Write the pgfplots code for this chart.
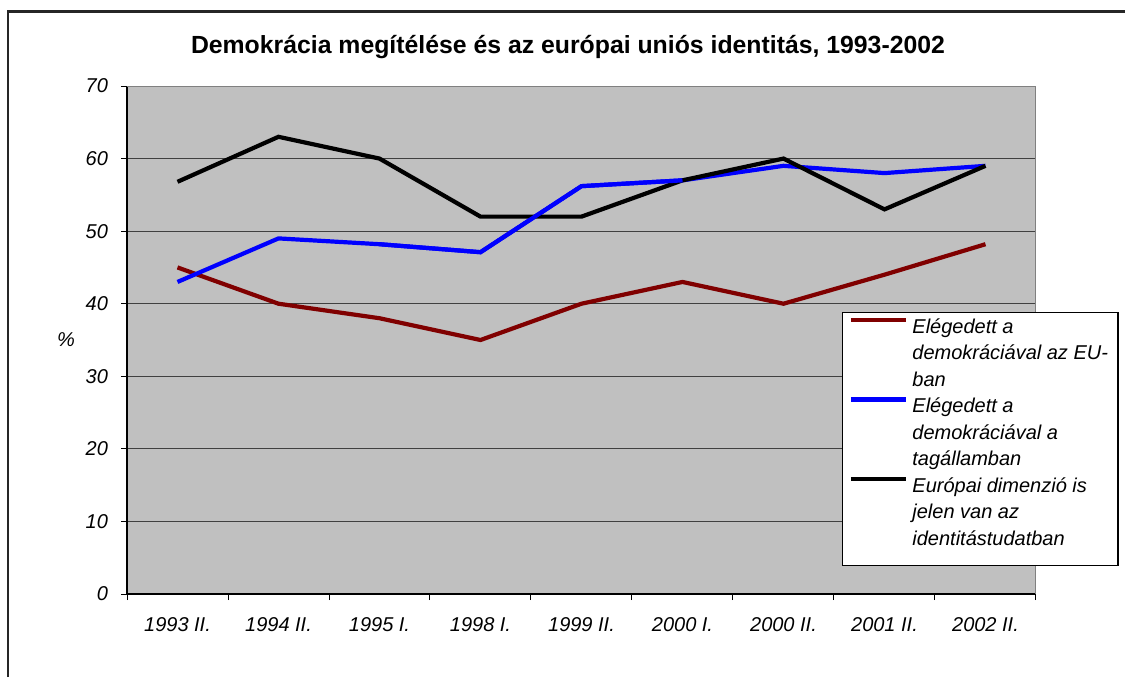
\documentclass[border=0pt]{standalone}
\usepackage{pgfplots}
\pgfplotsset{compat=1.18}
\usepackage{fontspec}
\setmainfont{Liberation Sans}
\definecolor{bgray}{HTML}{C0C0C0}
\definecolor{dred}{HTML}{800000}
\definecolor{fgray}{HTML}{808080}
\begin{document}
\begin{tikzpicture}[x=0.5pt,y=0.5pt]
\useasboundingbox (0,0) rectangle (1125,677);
\draw[line width=1.2pt,black!85] (8,0) -- (8,665.5) -- (1125,665.5);
\node[font=\bfseries\fontsize{12.4}{15}\selectfont] at (568,630) {Demokrácia megítélése és az európai uniós identitás, 1993-2002};
\node[font=\itshape\fontsize{10}{12}\selectfont] at (66,337) {\%};
\begin{axis}[
  at={(63.5pt,41.5pt)}, anchor=south west,
  scale only axis, width=454.5pt, height=254pt,
  xmin=-0.5, xmax=8.5, ymin=0, ymax=70,
  axis background/.style={fill=bgray},
  axis x line*=bottom, axis y line*=left,
  axis line style={black, line width=0.6pt},
  xtick={0,...,8},
  xticklabels={1993 II., 1994 II., 1995 I., 1998 I., 1999 II., 2000 I., 2000 II., 2001 II., 2002 II.},
  major x tick style={draw=none},
  minor xtick={-0.5,0.5,...,8.5},
  minor tick length=3pt,
  minor x tick style={black, line width=0.5pt},
  ytick={0,10,...,70},
  major tick length=3pt,
  y tick style={black, line width=0.5pt},
  tick align=outside,
  ymajorgrids, grid style={black!75, line width=0.5pt},
  ticklabel style={font=\itshape\fontsize{10}{12}\selectfont},
  /pgf/number format/assume math mode=true,
  xticklabel style={yshift=-5pt},
  yticklabel style={xshift=-3pt},
  legend style={at={(0.7866,0.555)}, anchor=north west, draw=black, line width=0.6pt,
    fill=white, font=\itshape\fontsize{10}{13.25}\selectfont, inner xsep=3pt, inner ysep=1pt,
    row sep=0pt, column sep=0pt,
    nodes={inner ysep=0pt, inner xsep=2pt, text height=9.25pt, text depth=4pt}},
  legend cell align=left,
  legend image code/.code={\draw[#1, line width=2.3pt] (0cm,0.75ex) -- (0.97cm,0.75ex);},
]
\draw[fgray, line width=0.6pt] (rel axis cs:0,1) -- (rel axis cs:1,1) -- (rel axis cs:1,0);
\addplot[dred, line width=2.1pt] coordinates {(0,45) (1,40) (2,38) (3,35) (4,40) (5,43) (6,40) (7,44) (8,48.2)};
\addlegendentry{Elégedett a}
\addlegendimage{empty legend}\addlegendentry{demokráciával az EU-}
\addlegendimage{empty legend}\addlegendentry{ban}
\addplot[blue, line width=2.1pt] coordinates {(0,43) (1,49) (2,48.2) (3,47.1) (4,56.2) (5,57) (6,59) (7,58) (8,59)};
\addlegendentry{Elégedett a}
\addlegendimage{empty legend}\addlegendentry{demokráciával a}
\addlegendimage{empty legend}\addlegendentry{tagállamban}
\addplot[black, line width=2.1pt] coordinates {(0,56.8) (1,63) (2,60) (3,52) (4,52) (5,57) (6,60) (7,53) (8,59)};
\addlegendentry{Európai dimenzió is}
\addlegendimage{empty legend}\addlegendentry{jelen van az}
\addlegendimage{empty legend}\addlegendentry[text depth=9pt]{identitástudatban}
\addplot[blue, line width=2.1pt, forget plot] coordinates {(2,48.2) (3,47.1) (4,56.2) (5,57)};
\end{axis}
\end{tikzpicture}
\end{document}
